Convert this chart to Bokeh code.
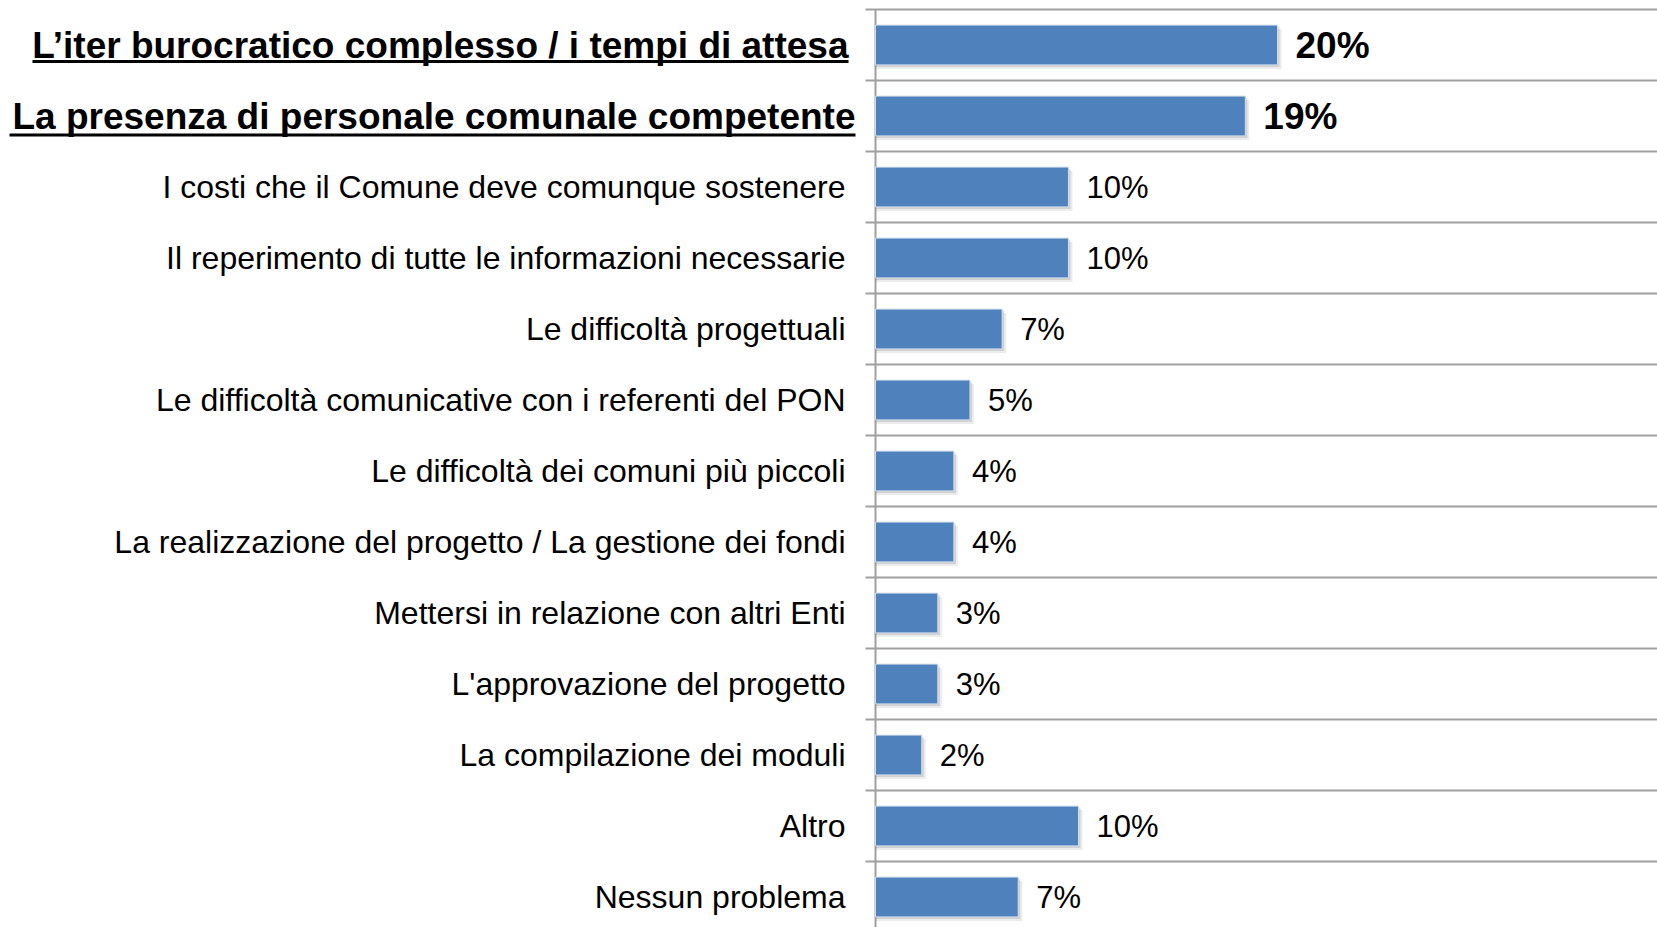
from bokeh.plotting import figure
from bokeh.models import ColumnDataSource, Range1d
from bokeh.embed import file_html
from bokeh.resources import INLINE
from bokeh.core.properties import value

# ---- data ----
categories = [
    "L\u2019iter burocratico complesso / i tempi di attesa",
    "La presenza di personale comunale competente",
    "I costi che il Comune deve comunque sostenere",
    "Il reperimento di tutte le informazioni necessarie",
    "Le difficoltà progettuali",
    "Le difficoltà comunicative con i referenti del PON",
    "Le difficoltà dei comuni più piccoli",
    "La realizzazione del progetto / La gestione dei fondi",
    "Mettersi in relazione con altri Enti",
    "L'approvazione del progetto",
    "La compilazione dei moduli",
    "Altro",
    "Nessun problema",
]
values = [20.0, 18.4, 9.6, 9.6, 6.3, 4.7, 3.9, 3.9, 3.1, 3.1, 2.3, 10.1, 7.1]
value_labels = ["20%", "19%", "10%", "10%", "7%", "5%", "4%", "4%", "3%", "3%", "2%", "10%", "7%"]
highlight = [True, True, False, False, False, False, False, False, False, False, False, False, False]

# ---- layout / style ----
W, H = 1657, 927
AXIS_X = 875                  # px position of the value axis
PX = 20.1                     # px per percentage point
PXY = 71.0                    # px per category row
TOP = 9                       # px of first row boundary
X_MIN = -AXIS_X / PX
X_MAX = (W - AXIS_X) / PX
y_top = -0.5 - TOP / PXY
y_bottom = y_top + H / PXY
FONT = "Liberation Sans"
BAR = "#4F81BD"
GRID = "#A0A0A0"
BAR_H = 0.56

n = len(categories)
idx = list(range(n))
xoff = [-27 if i == 0 else (-20 if i == 1 else -30) for i in idx]
src = ColumnDataSource(dict(
    idx=idx,
    val=values,
    vlab=value_labels,
    cat=categories,
    sh1_y=[i + 2.0 / PXY for i in idx],
    sh1_r=[v + 2.0 / PX for v in values],
    sh2_y=[i + 4.0 / PXY for i in idx],
    sh2_r=[v + 4.0 / PX for v in values],
    fs=["37px" if h else "32px" for h in highlight],
    vfs=["37px" if h else "31px" for h in highlight],
    st=["bold" if h else "normal" for h in highlight],
    xoff=xoff,
))

p = figure(width=W, height=H,
           min_border_left=0, min_border_right=0, min_border_top=0, min_border_bottom=0,
           x_range=Range1d(X_MIN, X_MAX), y_range=Range1d(y_bottom, y_top),
           x_axis_location=None, y_axis_location=None,
           toolbar_location=None, output_backend="svg",
           outline_line_color=None, background_fill_color="white", border_fill_color="white")
p.xgrid.visible = False
p.ygrid.visible = False

# row boundaries (grid lines with outward ticks) and the value axis line
boundaries = [k - 0.5 for k in range(n + 1)]
p.segment(x0=[-10 / PX] * len(boundaries), x1=[X_MAX] * len(boundaries),
          y0=boundaries, y1=boundaries, line_color=GRID, line_width=2)
p.segment(x0=[0], x1=[0], y0=[boundaries[0]], y1=[y_bottom], line_color=GRID, line_width=2)

# soft shadow + bars
p.hbar(y="sh2_y", left=0, right="sh2_r", height=BAR_H, source=src,
       fill_color="#808080", fill_alpha=0.15, line_color=None)
p.hbar(y="sh1_y", left=0, right="sh1_r", height=BAR_H, source=src,
       fill_color="#808080", fill_alpha=0.25, line_color=None)
p.hbar(y="idx", left=0, right="val", height=BAR_H, source=src,
       fill_color=BAR, line_color="#D0DDEE", line_width=1)

# value labels
p.text(x="val", y="idx", text="vlab", source=src, x_offset=18,
       text_baseline="middle", text_align="left",
       text_font=value(FONT), text_font_size="vfs", text_font_style="st", text_color="black")
# category labels
p.text(x=0, y="idx", text="cat", source=src, x_offset="xoff",
       text_baseline="middle", text_align="right",
       text_font=value(FONT), text_font_size="fs", text_font_style="st", text_color="black")

# underlines for highlighted categories
UL_W = {0: 816, 1: 846}
UL_DY = {0: 16.5, 1: 19.0}
ux0, ux1, uy = [], [], []
for i, h in enumerate(highlight):
    if h:
        off = -xoff[i]
        ux0.append(-(off + UL_W[i]) / PX)
        ux1.append(-off / PX)
        uy.append(i + UL_DY[i] / PXY)
p.segment(x0=ux0, x1=ux1, y0=uy, y1=uy, line_color="black", line_width=3)

open("out.html", "w").write(file_html(p, INLINE))
